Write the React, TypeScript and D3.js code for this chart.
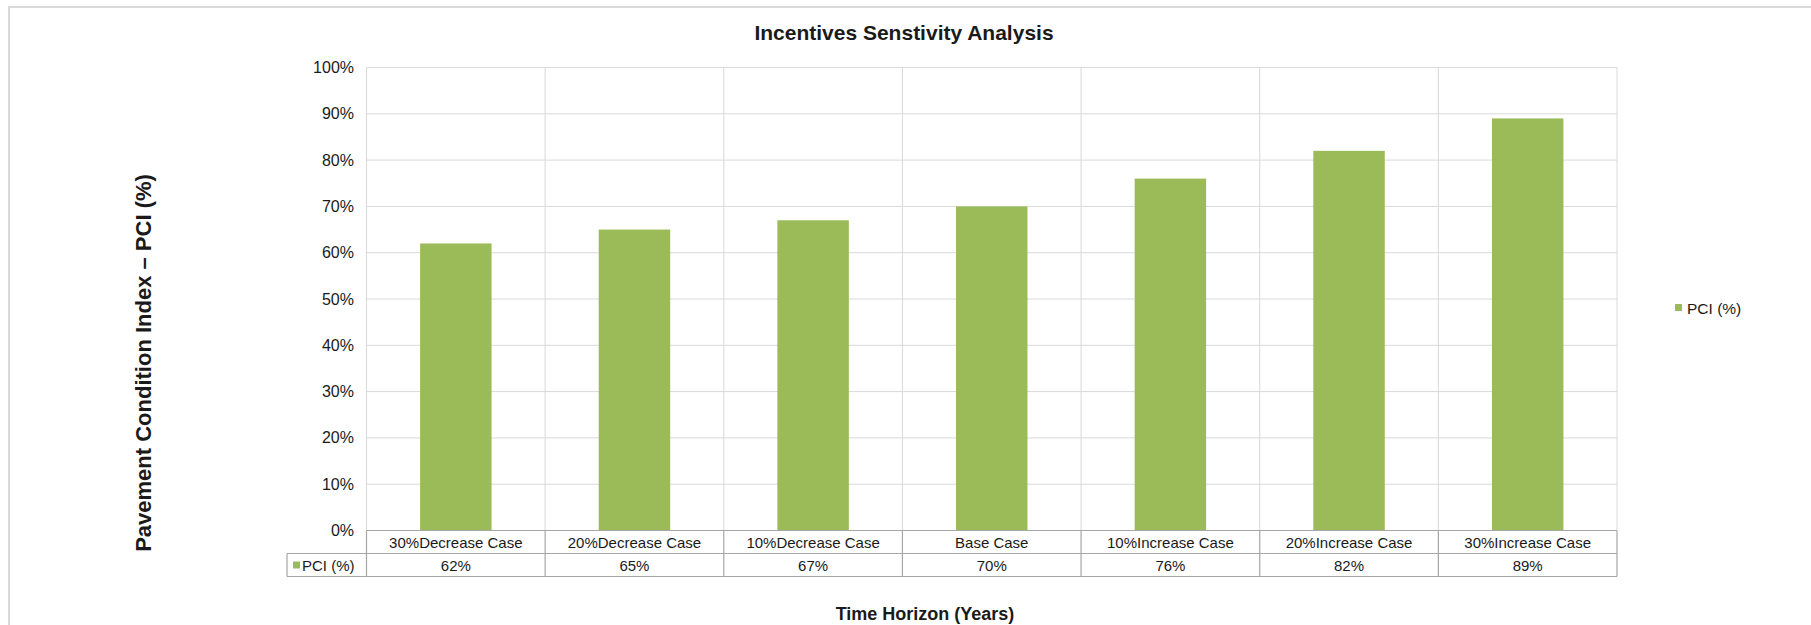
import React from "react";
import * as d3 from "d3";

const categories = [
  "30%Decrease Case",
  "20%Decrease Case",
  "10%Decrease Case",
  "Base Case",
  "10%Increase Case",
  "20%Increase Case",
  "30%Increase Case",
];
const pciValues = [62, 65, 67, 70, 76, 82, 89];
const yTicks = [0, 10, 20, 30, 40, 50, 60, 70, 80, 90, 100];
const seriesName = "PCI (%)";

const W = 1811;
const H = 625;
const FONT = "'Liberation Sans', Arial, sans-serif";
const GREEN = "#9bbb59";

export default function App() {
  const left = 366.5;
  const right = 1617;
  const top = 67.5;
  const bottom = 530.5;
  const rowH = 23;
  const legendColLeft = 287;

  const x = d3.scaleBand<string>().domain(categories).range([left, right]).paddingInner(0).paddingOuter(0);
  const y = d3.scaleLinear().domain([0, 100]).range([bottom, top]);
  const bw = x.bandwidth();
  const barW = bw * 0.4;

  const row1Bottom = bottom + rowH;
  const row2Bottom = row1Bottom + rowH;
  const tableStroke = "#a6a6a6";

  return (
    <svg
      width={W}
      height={H}
      style={{ position: "absolute", left: 0, top: 0, background: "#fff" }}
      fontFamily={FONT}
    >
      <rect x={9} y={7} width={W + 10} height={H + 10} fill="#fff" stroke="#d9d9d9" strokeWidth={2} />

      <text x={904} y={40} textAnchor="middle" fontSize={21} fontWeight="bold" fill="#1a1a1a">
        Incentives Senstivity Analysis
      </text>

      {/* gridlines */}
      {yTicks.map((t) => (
        <line key={"g" + t} x1={left} x2={right} y1={y(t)} y2={y(t)} stroke="#d9d9d9" strokeWidth={1} />
      ))}
      {categories.map((c, i) => (
        <line key={"v" + i} x1={x(c)!} x2={x(c)!} y1={top} y2={bottom} stroke="#d9d9d9" strokeWidth={1} />
      ))}
      <line x1={right} x2={right} y1={top} y2={bottom} stroke="#d9d9d9" strokeWidth={1} />

      {/* bars */}
      {categories.map((c, i) => (
        <rect
          key={"b" + i}
          x={x(c)! + (bw - barW) / 2}
          y={y(pciValues[i])}
          width={barW}
          height={bottom - y(pciValues[i])}
          fill={GREEN}
        />
      ))}

      {/* y tick labels */}
      {yTicks.map((t) => (
        <text key={"t" + t} x={354} y={y(t) + 5.5} textAnchor="end" fontSize={16} fill="#1a1a1a">
          {t + "%"}
        </text>
      ))}

      {/* data table */}
      <line x1={left} x2={right} y1={bottom} y2={bottom} stroke={tableStroke} strokeWidth={1.2} />
      <line x1={legendColLeft} x2={right} y1={row1Bottom} y2={row1Bottom} stroke={tableStroke} strokeWidth={1.2} />
      <line x1={legendColLeft} x2={right} y1={row2Bottom} y2={row2Bottom} stroke={tableStroke} strokeWidth={1.2} />
      <line x1={legendColLeft} x2={legendColLeft} y1={row1Bottom} y2={row2Bottom} stroke={tableStroke} strokeWidth={1.2} />
      {categories.map((c, i) => (
        <line key={"tv" + i} x1={x(c)!} x2={x(c)!} y1={bottom} y2={row2Bottom} stroke={tableStroke} strokeWidth={1.2} />
      ))}
      <line x1={right} x2={right} y1={bottom} y2={row2Bottom} stroke={tableStroke} strokeWidth={1.2} />

      {categories.map((c, i) => (
        <text key={"c" + i} x={x(c)! + bw / 2} y={bottom + 17} textAnchor="middle" fontSize={15} fill="#1a1a1a">
          {c}
        </text>
      ))}
      {categories.map((c, i) => (
        <text key={"v2" + i} x={x(c)! + bw / 2} y={row1Bottom + 17} textAnchor="middle" fontSize={15} fill="#1a1a1a">
          {pciValues[i] + "%"}
        </text>
      ))}
      <rect x={293} y={row1Bottom + 8} width={7} height={7} fill={GREEN} />
      <text x={302} y={row1Bottom + 17} fontSize={15} fill="#1a1a1a">
        {seriesName}
      </text>

      {/* legend */}
      <rect x={1675} y={304} width={7} height={7} fill={GREEN} />
      <text x={1687} y={313.5} fontSize={15.5} fill="#1a1a1a">
        {seriesName}
      </text>

      {/* axis titles */}
      <text
        transform={`translate(151, 363) rotate(-90)`}
        textAnchor="middle"
        fontSize={22}
        fontWeight="bold"
        fill="#1a1a1a"
      >
        Pavement Condition Index – PCI (%)
      </text>
      <text x={925} y={620} textAnchor="middle" fontSize={18} fontWeight="bold" fill="#1a1a1a">
        Time Horizon (Years)
      </text>
    </svg>
  );
}
